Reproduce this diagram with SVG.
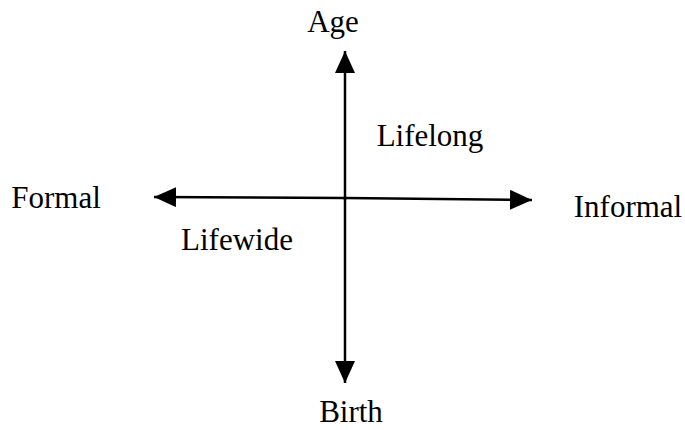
<svg xmlns="http://www.w3.org/2000/svg" width="685" height="430" viewBox="0 0 685 430">
<style>
text{font-family:"Liberation Serif","Times New Roman",serif;font-size:31px;fill:#000}
.ax{stroke:#000;stroke-width:2.5;fill:none}
</style>
<defs>
<marker id="ah" markerWidth="22" markerHeight="20" refX="22" refY="10" orient="auto" markerUnits="userSpaceOnUse">
<path d="M0,0 L22,10 L0,20 Z" fill="#000"/>
</marker>
</defs>
<rect width="685" height="430" fill="#fff"/>
<g id="connectors">
<line class="ax" x1="345" y1="200" x2="345" y2="51" marker-end="url(#ah)"/>
<line class="ax" x1="345" y1="198" x2="345" y2="383" marker-end="url(#ah)"/>
<line class="ax" x1="345" y1="198" x2="154" y2="197" marker-end="url(#ah)"/>
<line class="ax" x1="345" y1="198" x2="532" y2="200" marker-end="url(#ah)"/>
</g>
<g id="age"><text x="333" y="32" text-anchor="middle">Age</text></g>
<g id="lifelong"><text x="430" y="146" text-anchor="middle">Lifelong</text></g>
<g id="formal"><text x="56" y="208" text-anchor="middle">Formal</text></g>
<g id="informal"><text x="628" y="217" text-anchor="middle">Informal</text></g>
<g id="lifewide"><text x="237" y="250" text-anchor="middle">Lifewide</text></g>
<g id="birth"><text x="351" y="422" text-anchor="middle">Birth</text></g>
</svg>
